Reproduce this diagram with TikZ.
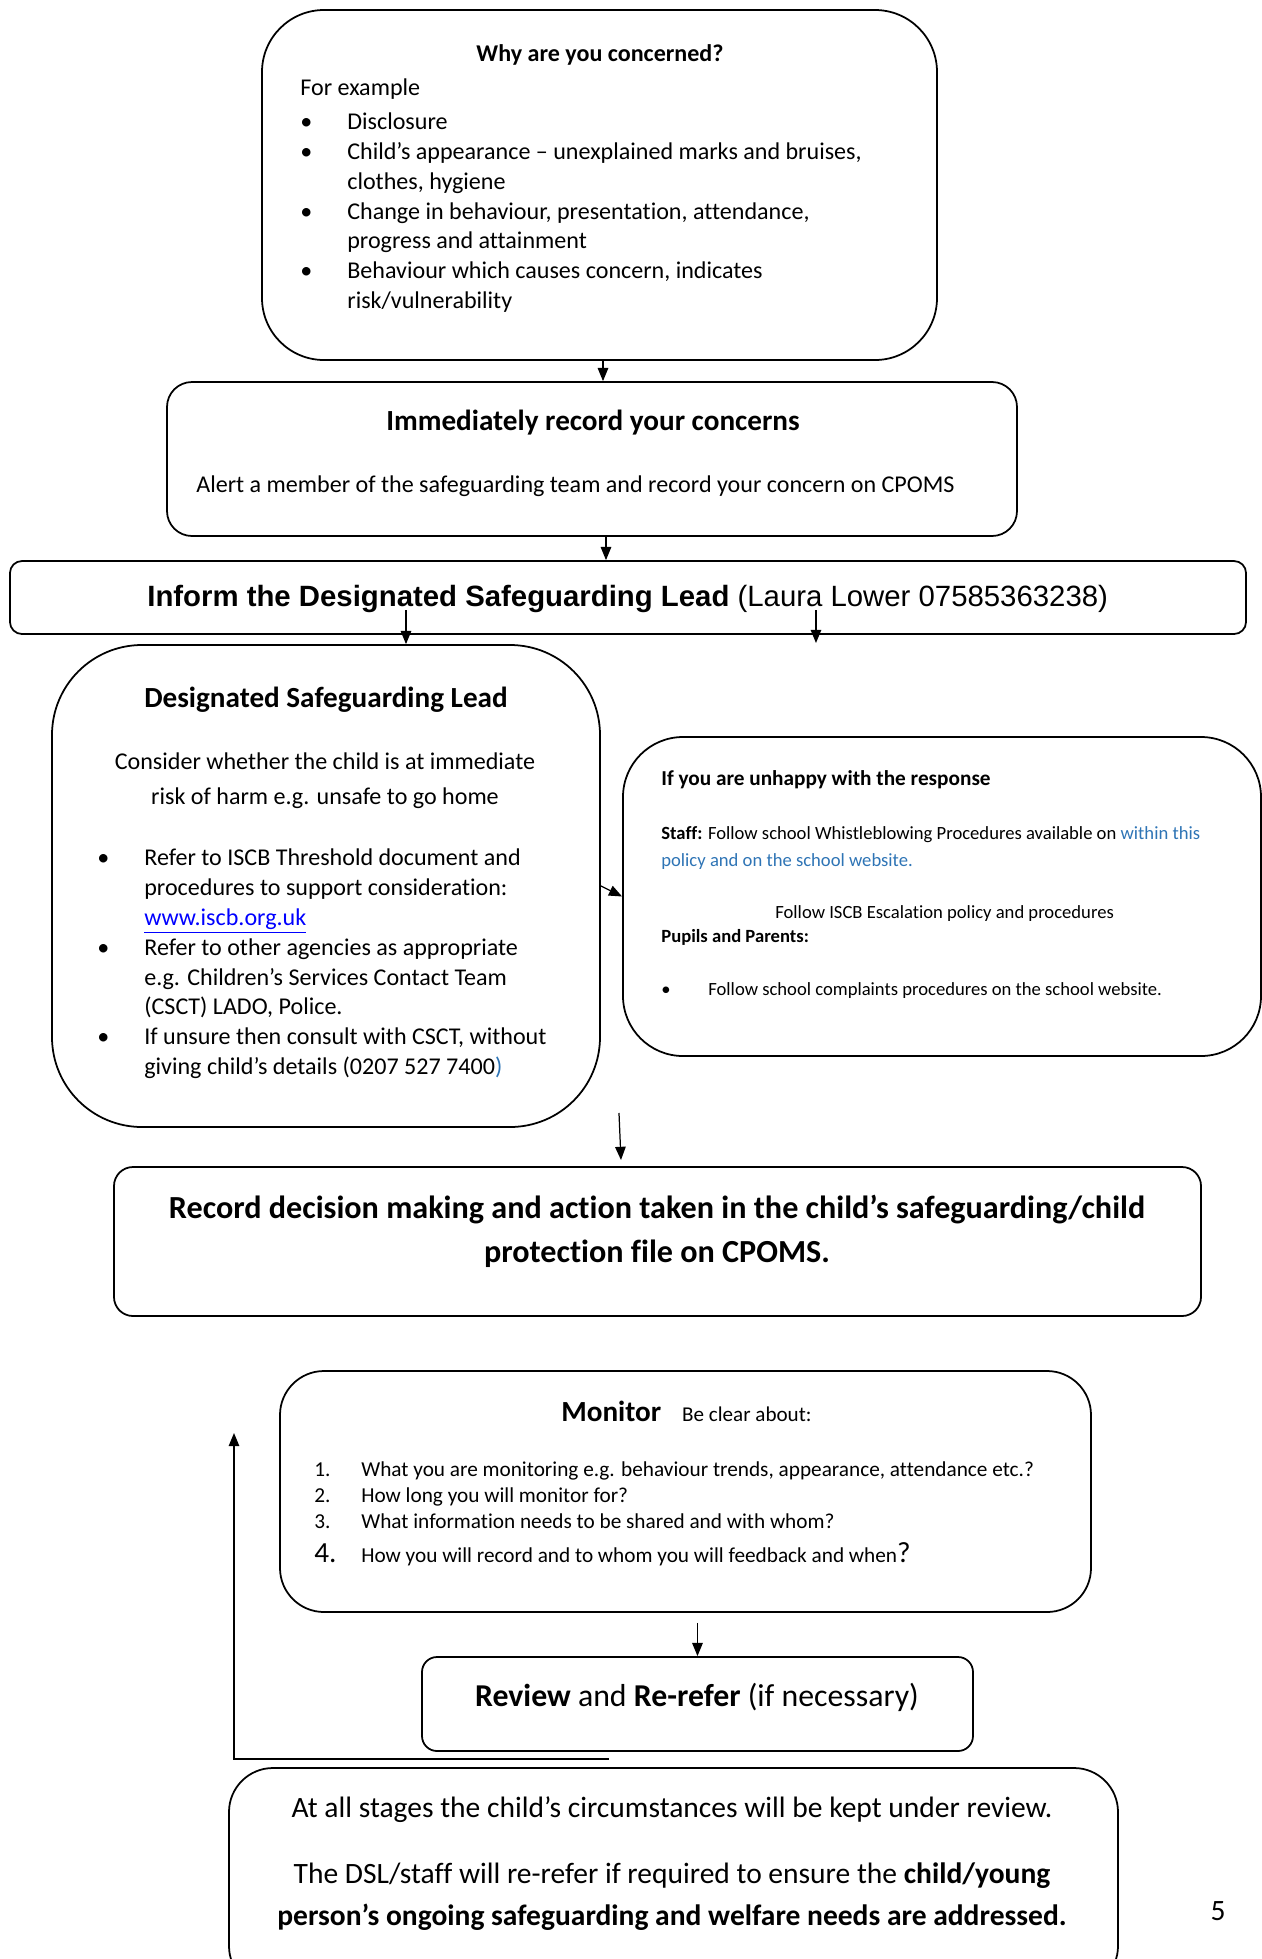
\documentclass[tikz,border=0pt]{standalone}
\usepackage{fontspec}
\setmainfont{Carlito}[Ligatures=CommonOff]
\newfontfamily\arialfont{Liberation Sans}
\usepackage{xcolor}
\usetikzlibrary{arrows.meta}
\definecolor{urlblue}{RGB}{0,0,255}
\definecolor{textblue}{RGB}{46,116,181}
\newcommand{\szbody}{\fontsize{13.7}{17}\selectfont}
\newcommand{\szhead}{\fontsize{16.6}{20}\selectfont}
\newcommand{\szrecord}{\fontsize{18.3}{25.5}\selectfont}
\newcommand{\szsmall}{\fontsize{10.6}{15.9}\selectfont}
\newcommand{\szsmallhead}{\fontsize{12.1}{15}\selectfont}
\newcommand{\szlist}{\fontsize{12.1}{14.8}\selectfont}
\newcommand{\sznote}{\fontsize{16.8}{24}\selectfont}
\newcommand{\szreview}{\fontsize{18.1}{22}\selectfont}
\newcommand{\szinform}{\fontsize{16.7}{20}\selectfont}
\begin{document}
\begin{tikzpicture}[scale=0.2]
\tikzstyle{every node}+=[inner sep=0pt]
\tikzstyle{box}=[draw=black, line width=1pt, rectangle]
\tikzstyle{arr}=[black, line width=0.7pt, -{Triangle[length=7.5pt,width=6pt]}]
\useasboundingbox (0,0) rectangle (126.2,-195.9);
\node [box, minimum width=13.5cm, minimum height=7cm, rounded corners=1.24cm] (why) at (59.95,-18.5) {};
\node [anchor=base, font=\szbody\bfseries] (whyt) at (60.0,-6.1) {Why are you concerned?};
\node [anchor=base west, font=\szbody] (whyl) at (30.0,-9.55) {\begin{tabular}[t]{@{}p{0.94cm}@{}l@{}}
\multicolumn{2}{@{}l@{}}{For example}\\[2.3pt]
\textbullet & Disclosure\\
\textbullet & Child’s appearance – unexplained marks and bruises,\\
 & clothes, hygiene\\
\textbullet & Change in behaviour, presentation, attendance,\\
 & progress and attainment\\
\textbullet & Behaviour which causes concern, indicates\\
 & risk/vulnerability
\end{tabular}};
\node [box, minimum width=17cm, minimum height=3.08cm, rounded corners=0.5cm] (imm) at (59.2,-45.9) {};
\node [anchor=base, font=\szhead\bfseries] (immt) at (59.3,-43.05) {Immediately record your concerns};
\node [anchor=base west, font=\szbody] (imma) at (19.6,-49.25) {Alert a member of the safeguarding team and record your concern on CPOMS};
\node [box, minimum width=24.72cm, minimum height=1.46cm, rounded corners=0.24cm] (inf) at (62.8,-59.75) {};
\node [anchor=base west, font=\szinform\arialfont] (inft) at (14.7,-60.65) {\textbf{Inform the Designated Safeguarding Lead} (Laura Lower 07585363238)};
\node [box, minimum width=10.96cm, minimum height=9.64cm, rounded corners=1.8cm] (dsl) at (32.6,-88.6) {};
\node [anchor=base, font=\szhead\bfseries] (dslt) at (32.6,-70.75) {Designated Safeguarding Lead};
\node [anchor=base, font=\szbody] (dslc) at (32.5,-76.95) {\begin{tabular}[t]{@{}c@{}}Consider whether the child is at immediate\\[2.9pt] risk of harm e.g. unsafe to go home\end{tabular}};
\node [anchor=base west, font=\szbody] (dsll) at (9.7,-86.55) {\begin{tabular}[t]{@{}p{0.94cm}@{}l@{}}
\textbullet & Refer to ISCB Threshold document and\\
 & procedures to support consideration:\\
 & \textcolor{urlblue}{\underline{www.iscb.org.uk}}\\
\textbullet & Refer to other agencies as appropriate\\
 & e.g. Children’s Services Contact Team\\
 & (CSCT) LADO, Police.\\
\textbullet & If unsure then consult with CSCT, without\\
 & giving child’s details (0207 527 7400\textcolor{textblue}{)}
\end{tabular}};
\node [box, minimum width=12.76cm, minimum height=6.38cm, rounded corners=1.2cm] (unh) at (94.2,-89.65) {};
\node [anchor=base west, font=\szsmallhead\bfseries] (unht) at (66.1,-78.5) {If you are unhappy with the response};
\node [anchor=base west, font=\szsmall] (unhs) at (66.1,-83.9) {\begin{tabular}[t]{@{}l@{}}\textbf{Staff:} Follow school Whistleblowing Procedures available on \textcolor{textblue}{within this}\\ \textcolor{textblue}{policy and on the school website.}\end{tabular}};
\node [anchor=base west, font=\szsmall] (unhe) at (77.5,-91.8) {Follow ISCB Escalation policy and procedures};
\node [anchor=base west, font=\szsmall\bfseries] (unhp) at (66.1,-94.2) {Pupils and Parents:};
\node [anchor=base west, font=\szsmall] (unhb) at (66.1,-99.5) {\begin{tabular}[t]{@{}p{0.94cm}@{}l@{}}\textbullet & Follow school complaints procedures on the school website.\end{tabular}};
\node [box, minimum width=21.74cm, minimum height=2.98cm, rounded corners=0.38cm] (rec) at (65.75,-124.15) {};
\node [anchor=base, font=\szrecord\bfseries] (rect) at (65.7,-121.8) {\begin{tabular}[t]{@{}c@{}}Record decision making and action taken in the child’s safeguarding/child\\ protection file on CPOMS.\end{tabular}};
\node [box, minimum width=16.22cm, minimum height=4.82cm, rounded corners=0.88cm] (mon) at (68.55,-149.15) {};
\node [anchor=base west] (mont) at (56.1,-142.15) {{\szhead\bfseries Monitor}\hspace{0.42cm}{\fontsize{12}{14}\selectfont Be clear about:}};
\node [anchor=base west, font=\szlist] (monl) at (31.4,-147.65) {\begin{tabular}[t]{@{}p{0.94cm}@{}l@{}}
1. & What you are monitoring e.g. behaviour trends, appearance, attendance etc.?\\
2. & How long you will monitor for?\\
3. & What information needs to be shared and with whom?\\[3.4pt]
{\szhead 4.} & How you will record and to whom you will feedback and when{\szhead ?}
\end{tabular}};
\node [box, minimum width=11.02cm, minimum height=1.88cm, rounded corners=0.3cm] (rev) at (69.75,-170.4) {};
\node [anchor=base, font=\szreview] (revt) at (69.7,-170.65) {\textbf{Review} and \textbf{Re-refer} (if necessary)};
\node [box, minimum width=17.78cm, minimum height=4.44cm, rounded corners=0.88cm] (note) at (67.35,-187.9) {};
\node [anchor=base, font=\sznote] (notea) at (67.2,-181.7) {At all stages the child’s circumstances will be kept under review.};
\node [anchor=base, font=\sznote] (noteb) at (67.2,-188.3) {\begin{tabular}[t]{@{}c@{}}The DSL/staff will re-refer if required to ensure the \textbf{child/young}\\ \textbf{person’s ongoing safeguarding and welfare needs are addressed.}\end{tabular}};
\node [anchor=base, font=\sznote] (pnum) at (121.8,-192.0) {5};
\coordinate (whyb) at (60.3,-36.0);
\coordinate (immb) at (60.6,-53.6);
\coordinate (infa) at (40.6,-61.0);
\coordinate (infb) at (81.6,-61.0);
\coordinate (infe) at (81.6,-64.3);
\coordinate (dwna) at (61.9,-111.3);
\coordinate (dwnb) at (62.1,-116.0);
\coordinate (loopa) at (60.9,-175.9);
\coordinate (loopb) at (23.4,-143.3);
\draw [arr] (whyb) -- (whyb |- imm.north);
\draw [arr] (immb) -- (immb |- inf.north);
\draw [arr] (infa) -- (infa |- dsl.north);
\draw [arr] (infb) -- (infe);
\draw [arr] (dsl.east) -- (unh.west);
\draw [arr] (dwna) -- (dwnb);
\draw [arr, shorten <=0.2cm] (mon.south -| rev.north) -- (rev.north);
\draw [arr] (loopa) -| (loopb);
\end{tikzpicture}
\end{document}
